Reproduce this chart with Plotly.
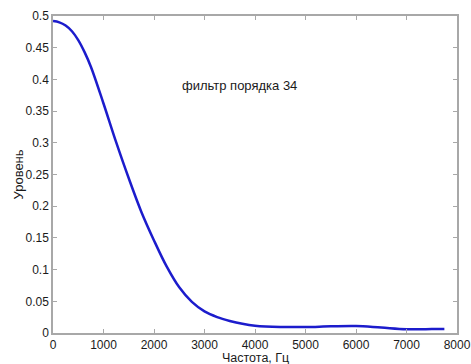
import plotly.graph_objects as go

freq = [0, 125, 250, 375, 500, 625, 750, 1000, 1250, 1500, 1750, 2000, 2250, 2500,
        2750, 3000, 3250, 3500, 3750, 4000, 4500, 5000, 5500, 6000, 6500, 7000, 7500, 7750]
level = [0.492, 0.490, 0.485, 0.476, 0.462, 0.443, 0.420, 0.362, 0.301, 0.244, 0.191,
         0.146, 0.105, 0.072, 0.049, 0.034, 0.025, 0.019, 0.0145, 0.0115, 0.0095, 0.0095,
         0.0105, 0.011, 0.0085, 0.006, 0.0062, 0.0065]
x_ticks = [0, 1000, 2000, 3000, 4000, 5000, 6000, 7000, 8000]
y_ticks = [0, 0.05, 0.1, 0.15, 0.2, 0.25, 0.3, 0.35, 0.4, 0.45, 0.5]
y_labels = ["0", "0.05", "0.1", "0.15", "0.2", "0.25", "0.3", "0.35", "0.4", "0.45", "0.5"]

FONT = "Liberation Sans, Arial"
TXT = "#1a1a1a"

fig = go.Figure()
fig.add_trace(go.Scatter(x=freq, y=level, mode="lines",
                         line=dict(color="#1c1ccc", width=2.5, shape="spline", smoothing=1.0),
                         showlegend=False))

axis_common = dict(showgrid=False, zeroline=False, showline=True, linecolor="#a8a8a8",
                   linewidth=1.5, mirror="ticks", ticks="inside", ticklen=4,
                   tickcolor="#a8a8a8", automargin=False,
                   tickfont=dict(family=FONT, size=12, color=TXT))

fig.update_xaxes(range=[0, 8000], tickvals=x_ticks, ticktext=[str(v) for v in x_ticks],
                 **axis_common)
fig.update_yaxes(range=[0, 0.5], tickvals=y_ticks, ticktext=y_labels, **axis_common)

fig.add_annotation(x=3700, y=0.39, text="фильтр порядка 34", showarrow=False,
                   font=dict(family=FONT, size=13, color=TXT))
fig.add_annotation(xref="paper", yref="paper", x=0.5, y=0, yshift=-25, yanchor="middle",
                   text="Частота, Гц", showarrow=False,
                   font=dict(family=FONT, size=12.5, color=TXT))
fig.add_annotation(xref="paper", yref="paper", x=0, y=0.5, xshift=-35, xanchor="center",
                   text="Уровень", textangle=-90, showarrow=False,
                   font=dict(family=FONT, size=13, color=TXT))

fig.update_layout(width=471, height=364, plot_bgcolor="white", paper_bgcolor="white",
                  margin=dict(l=53, r=14, t=16, b=31))

fig.write_html("out.html")
